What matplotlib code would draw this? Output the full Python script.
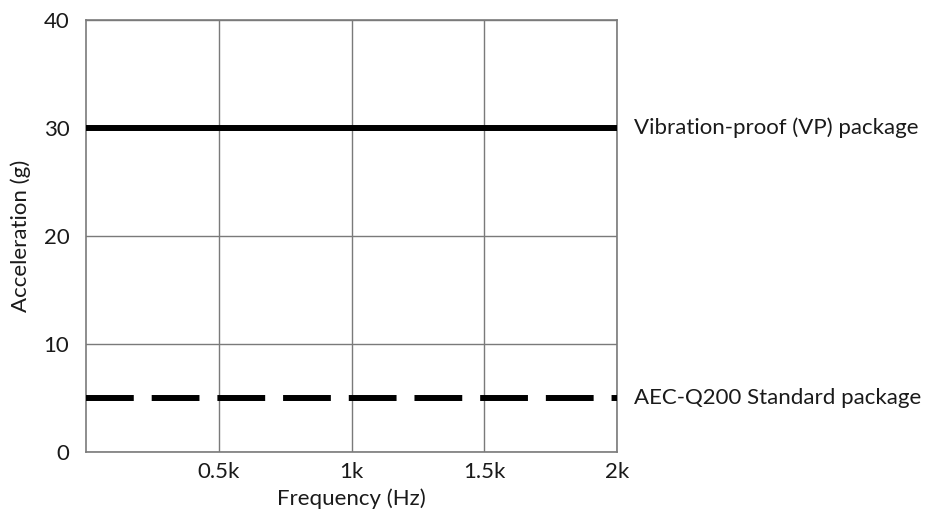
import matplotlib
matplotlib.use("Agg")
import matplotlib.pyplot as plt

plt.rcParams['font.family'] = ['Lato', 'DejaVu Sans']

x_range = [0, 2000]
vp_accel = [30, 30]
std_accel = [5, 5]
series_labels = ["Vibration-proof (VP) package", "AEC-Q200 Standard package"]
x_ticks = [500, 1000, 1500, 2000]
x_ticklabels = ["0.5k", "1k", "1.5k", "2k"]
y_ticks = [0, 10, 20, 30, 40]

FS = 16
TC = '#1a1a1a'

fig = plt.figure(figsize=(9.3, 5.18), dpi=100)
ax = fig.add_axes([86/930, 1-452/518, (617-86)/930, (452-20)/518])

ax.plot(x_range, vp_accel, color='black', lw=4.3, solid_capstyle='butt', zorder=3)
ax.plot(x_range, std_accel, color='black', lw=4.3, dashes=(8.0, 3.0),
        dash_capstyle='butt', zorder=3)

ax.set_xlim(0, 2000)
ax.set_ylim(0, 40)
ax.set_xticks(x_ticks)
ax.set_xticklabels(x_ticklabels)
ax.set_yticks(y_ticks)
ax.grid(True, color='#7a7a7a', lw=1.0)
ax.set_axisbelow(True)
for s in ax.spines.values():
    s.set_color('#7a7a7a')
    s.set_linewidth(1.2)
ax.tick_params(length=0, labelsize=FS, colors=TC)
ax.tick_params(axis='y', pad=12)
ax.tick_params(axis='x', pad=7)
ax.set_xlabel("Frequency (Hz)", fontsize=FS, color=TC, labelpad=5)
ax.set_ylabel("Acceleration (g)", fontsize=FS, color=TC, labelpad=9)

for yv, lab in zip([vp_accel[-1], std_accel[-1]], series_labels):
    ax.annotate(lab, xy=(1.0, yv), xycoords=('axes fraction', 'data'),
                xytext=(17, 0), textcoords='offset pixels',
                ha='left', va='center', fontsize=FS, color=TC,
                annotation_clip=False)

fig.savefig("out.png", dpi=100)
